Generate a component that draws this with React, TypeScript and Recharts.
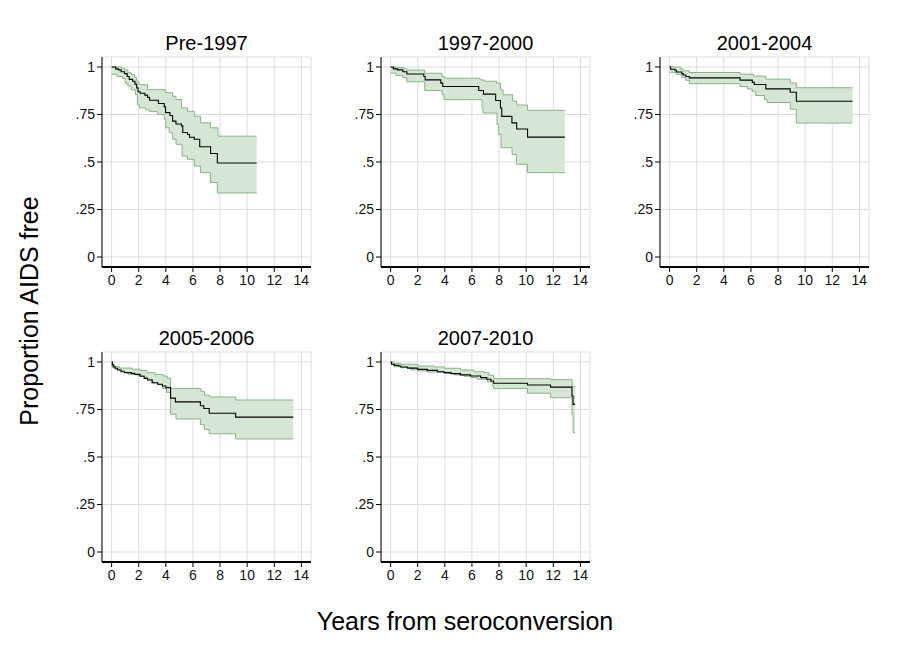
import React from 'react';
import { ComposedChart, Line, Area, XAxis, YAxis, CartesianGrid } from 'recharts';

type Step = [number, number][];

// ---- Pre-1997 ----
const pre1997Est: Step = [[0,1],[0.3,.99],[0.5,.985],[0.7,.975],[0.95,.965],[1.15,.95],[1.3,.935],[1.55,.925],[1.72,.91],[1.85,.89],[1.95,.87],[2.1,.862],[2.45,.852],[2.65,.84],[2.8,.825],[3.45,.808],[3.88,.79],[3.98,.76],[4.3,.745],[4.5,.715],[4.75,.70],[5.15,.69],[5.25,.655],[5.6,.645],[5.75,.63],[6.1,.62],[6.5,.58],[7.3,.545],[7.8,.495],[10.7,.495]];
const pre1997Hi: Step = [[0,1],[0.7,.995],[0.95,.985],[1.2,.97],[1.45,.96],[1.7,.945],[1.85,.925],[2.0,.907],[2.65,.881],[3.95,.865],[4.5,.846],[4.75,.829],[5.15,.785],[5.6,.767],[6.1,.741],[6.55,.706],[7.3,.68],[7.85,.636],[10.7,.636]];
const pre1997Lo: Step = [[0,.962],[0.4,.95],[0.8,.94],[1.0,.915],[1.2,.90],[1.45,.88],[1.75,.855],[1.9,.80],[2.05,.785],[2.5,.775],[2.8,.765],[3.4,.75],[3.9,.725],[4.0,.68],[4.25,.654],[4.5,.62],[4.75,.593],[5.2,.531],[5.6,.514],[6.1,.479],[6.55,.444],[7.3,.392],[7.8,.337],[10.7,.337]];

// ---- 1997-2000 ----
const p9700Est: Step = [[0,1],[0.2,.99],[0.5,.985],[0.9,.975],[1.2,.963],[2.45,.95],[2.55,.932],[3.7,.915],[3.85,.897],[6.5,.876],[6.85,.857],[7.75,.824],[8.1,.784],[8.2,.74],[8.95,.706],[9.3,.674],[10.1,.631],[12.85,.631]];
const p9700Hi: Step = [[0,1],[0.3,.997],[1.0,.99],[1.2,.984],[2.5,.967],[3.8,.949],[4.0,.941],[6.6,.932],[6.9,.925],[7.8,.915],[8.1,.88],[8.3,.854],[9.0,.82],[9.3,.80],[10.1,.772],[12.85,.772]];
const p9700Lo: Step = [[0,.968],[0.4,.955],[0.9,.945],[1.2,.922],[2.52,.876],[3.8,.854],[3.93,.828],[6.75,.784],[6.82,.758],[7.85,.697],[7.98,.645],[8.15,.575],[8.96,.54],[9.28,.488],[10.1,.444],[12.85,.444]];

// ---- 2001-2004 ----
const p0104Est: Step = [[0,1],[0.07,.988],[0.4,.983],[0.5,.974],[0.9,.965],[1.0,.958],[1.2,.95],[1.45,.943],[5.2,.931],[6.1,.919],[6.25,.908],[7.1,.885],[8.9,.867],[9.35,.82],[13.5,.82]];
const p0104Hi: Step = [[0,1],[0.8,.99],[1.0,.98],[1.45,.971],[5.2,.962],[6.2,.952],[7.1,.936],[8.9,.916],[9.35,.891],[13.5,.891]];
const p0104Lo: Step = [[0,.972],[0.5,.96],[0.9,.945],[1.2,.93],[1.45,.912],[5.2,.897],[5.75,.884],[6.1,.87],[6.35,.85],[7.0,.828],[7.2,.813],[8.9,.778],[9.35,.705],[13.5,.705]];

// ---- 2005-2006 ----
const p0506Est: Step = [[0,1],[0.05,.985],[0.15,.975],[0.25,.967],[0.45,.958],[0.7,.949],[0.95,.944],[1.45,.94],[1.7,.935],[2.1,.925],[2.4,.914],[2.65,.905],[3.0,.891],[3.4,.883],[3.75,.874],[4.0,.865],[4.35,.81],[4.7,.79],[6.55,.77],[6.8,.755],[7.2,.73],[9.15,.71],[13.4,.71]];
const p0506Hi: Step = [[0,1],[0.05,.985],[0.2,.975],[0.6,.968],[1.5,.962],[2.1,.955],[2.6,.944],[3.2,.935],[3.8,.926],[4.1,.915],[4.35,.861],[6.6,.845],[6.85,.826],[7.2,.816],[9.15,.80],[13.4,.80]];
const p0506Lo: Step = [[0,.985],[0.05,.97],[0.3,.96],[0.6,.953],[0.95,.944],[1.2,.935],[1.9,.928],[2.4,.918],[2.65,.909],[2.95,.89],[3.4,.88],[3.75,.86],[4.05,.84],[4.35,.725],[4.75,.70],[6.55,.67],[6.85,.645],[7.2,.622],[9.15,.595],[13.4,.595]];

// ---- 2007-2010 ----
const p0710Est: Step = [[0,1],[0.07,.988],[0.27,.982],[0.6,.979],[0.76,.974],[1.25,.968],[2.0,.961],[2.7,.956],[3.45,.949],[3.95,.944],[4.45,.939],[5.15,.932],[5.9,.926],[6.65,.918],[7.1,.909],[7.4,.90],[7.6,.888],[10.1,.879],[11.8,.868],[13.38,.821],[13.46,.777],[13.6,.777]];
const p0710Hi: Step = [[0,1],[0.25,.993],[0.75,.988],[2.0,.979],[3.2,.974],[3.95,.967],[5.15,.958],[6.15,.949],[6.9,.944],[7.25,.93],[7.6,.912],[11.8,.907],[13.4,.872],[13.6,.872]];
const p0710Lo: Step = [[0,.988],[0.25,.975],[0.75,.97],[1.5,.958],[2.0,.953],[2.7,.947],[3.95,.94],[4.7,.932],[5.4,.925],[5.9,.918],[6.4,.909],[7.15,.895],[7.5,.874],[7.6,.86],[10.1,.836],[11.8,.812],[13.38,.725],[13.46,.628],[13.6,.628]];

const panelTitles = ['Pre-1997', '1997-2000', '2001-2004', '2005-2006', '2007-2010'];
const xTicks = [0, 2, 4, 6, 8, 10, 12, 14];
const yTicks = [0, 0.25, 0.5, 0.75, 1];
const yTickLabels = ['0', '.25', '.5', '.75', '1'];
const xTitle = 'Years from seroconversion';
const yTitle = 'Proportion AIDS free';

const X_DOMAIN: [number, number] = [-0.71, 14.71];
const Y_DOMAIN: [number, number] = [-0.0526, 1.0526];

const PLOT_W = 209;
const PLOT_H = 210;
const Y_AXIS_W = 40;
const M_TOP = 5;
const M_RIGHT = 6;
const X_AXIS_H = 30;
const COL_LEFT = [102, 381, 660];
const ROW_TOP = [57, 352];

const FILL = '#d6e6d4';
const EDGE = '#86b386';
const TICK_FONT = "'Liberation Sans Narrow', 'Liberation Sans', Arial, sans-serif";
const TITLE_FONT = "'Liberation Sans', Arial, sans-serif";

function valueAt(steps: Step, t: number): number {
  let v = steps[0][1];
  for (const [x, y] of steps) {
    if (x <= t + 1e-9) v = y;
    else break;
  }
  return v;
}

function buildTable(est: Step, lo: Step, hi: Step) {
  const times = Array.from(new Set([...est, ...lo, ...hi].map((p) => p[0]))).sort((a, b) => a - b);
  return times.map((t) => ({ t, s: valueAt(est, t), band: [valueAt(lo, t), valueAt(hi, t)] }));
}

const panels = [
  { title: panelTitles[0], data: buildTable(pre1997Est, pre1997Lo, pre1997Hi), col: 0, row: 0 },
  { title: panelTitles[1], data: buildTable(p9700Est, p9700Lo, p9700Hi), col: 1, row: 0 },
  { title: panelTitles[2], data: buildTable(p0104Est, p0104Lo, p0104Hi), col: 2, row: 0 },
  { title: panelTitles[3], data: buildTable(p0506Est, p0506Lo, p0506Hi), col: 0, row: 1 },
  { title: panelTitles[4], data: buildTable(p0710Est, p0710Lo, p0710Hi), col: 1, row: 1 },
];

function Panel({ data, col, row }: { data: any[]; col: number; row: number }) {
  const left = COL_LEFT[col] - Y_AXIS_W;
  const top = ROW_TOP[row] - M_TOP;
  return (
    <div style={{ position: 'absolute', left, top }}>
      <ComposedChart
        width={Y_AXIS_W + PLOT_W + M_RIGHT}
        height={M_TOP + PLOT_H + X_AXIS_H}
        data={data}
        margin={{ top: M_TOP, right: M_RIGHT, bottom: 0, left: 0 }}
      >
        <CartesianGrid stroke="#dddddd" strokeWidth={1} />
        <XAxis
          dataKey="t"
          type="number"
          domain={X_DOMAIN}
          ticks={xTicks}
          interval={0}
          allowDataOverflow
          height={X_AXIS_H}
          tickSize={5}
          tickMargin={3}
          axisLine={{ stroke: '#000', strokeWidth: 2 }}
          tickLine={{ stroke: '#000' }}
          tick={{ fill: '#111', fontSize: 14, fontFamily: TICK_FONT }}
        />
        <XAxis
          xAxisId="top"
          orientation="top"
          type="number"
          domain={X_DOMAIN}
          height={0}
          tick={false}
          tickLine={false}
          axisLine={{ stroke: '#000', strokeWidth: 1 }}
        />
        <YAxis
          type="number"
          domain={Y_DOMAIN}
          ticks={yTicks}
          interval={0}
          allowDataOverflow
          width={Y_AXIS_W}
          tickSize={5}
          tickMargin={2}
          tickFormatter={(v: number) => yTickLabels[yTicks.indexOf(v)] ?? String(v)}
          axisLine={{ stroke: '#000', strokeWidth: 1 }}
          tickLine={{ stroke: '#000' }}
          tick={{ fill: '#111', fontSize: 14, fontFamily: TICK_FONT }}
        />
        <YAxis
          yAxisId="right"
          orientation="right"
          type="number"
          domain={Y_DOMAIN}
          width={0}
          tick={false}
          tickLine={false}
          axisLine={{ stroke: '#000', strokeWidth: 1 }}
        />
        <Area
          dataKey="band"
          type="stepAfter"
          fill={FILL}
          fillOpacity={1}
          stroke={EDGE}
          strokeWidth={1}
          dot={false}
          activeDot={false}
          isAnimationActive={false}
        />
        <Line
          dataKey="s"
          type="stepAfter"
          stroke="#000"
          strokeWidth={1.1}
          dot={false}
          activeDot={false}
          isAnimationActive={false}
        />
      </ComposedChart>
    </div>
  );
}

export default function App() {
  return (
    <div style={{ position: 'absolute', left: 0, top: 0, width: 899, height: 653, background: '#fff', overflow: 'hidden' }}>
      <svg width={899} height={653} style={{ position: 'absolute', left: 0, top: 0 }}>
        {panels.map((p) => (
          <text
            key={p.title}
            x={COL_LEFT[p.col] + PLOT_W / 2}
            y={ROW_TOP[p.row] - 7}
            textAnchor="middle"
            fontFamily={TITLE_FONT}
            fontSize={20}
            fill="#000"
          >
            {p.title}
          </text>
        ))}
        <text x={465} y={630} textAnchor="middle" fontFamily={TITLE_FONT} fontSize={25} fill="#000">
          {xTitle}
        </text>
        <text
          x={38}
          y={311}
          textAnchor="middle"
          fontFamily={TITLE_FONT}
          fontSize={25}
          fill="#000"
          transform="rotate(-90, 38, 311)"
        >
          {yTitle}
        </text>
      </svg>
      {panels.map((p) => (
        <Panel key={p.title} data={p.data} col={p.col} row={p.row} />
      ))}
    </div>
  );
}
